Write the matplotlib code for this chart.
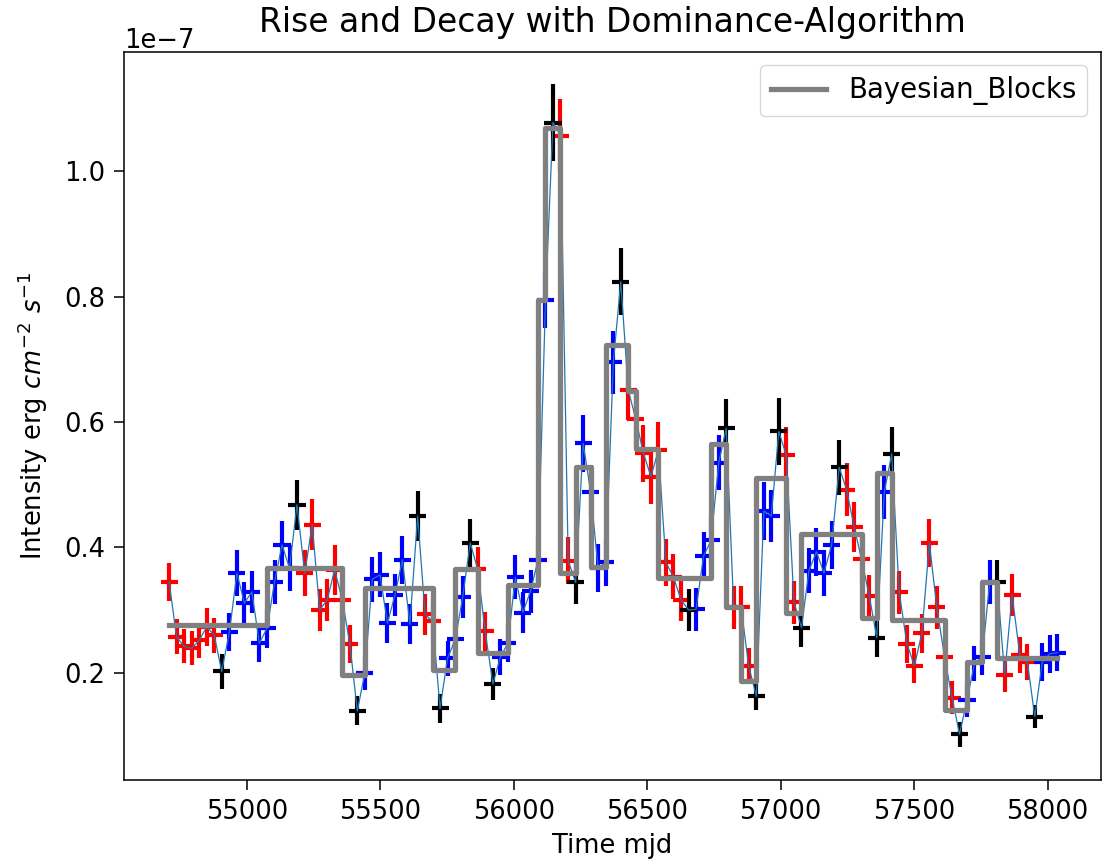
import numpy as np
import matplotlib
matplotlib.use("Agg")
import matplotlib.pyplot as plt

# Time grid (MJD) of the light-curve bins
time_mjd = [54709, 54737, 54765, 54794, 54822, 54850, 54878, 54906, 54935, 54963,
            54991, 55019, 55047, 55076, 55104, 55132, 55160, 55188, 55217, 55245,
            55273, 55301, 55329, 55358, 55386, 55414, 55442, 55470, 55499, 55527,
            55555, 55583, 55611, 55640, 55668, 55696, 55724, 55752, 55781, 55809,
            55837, 55865, 55893, 55922, 55950, 55978, 56006, 56034, 56063, 56091,
            56119, 56147, 56175, 56204, 56232, 56260, 56288, 56316, 56345, 56373,
            56401, 56429, 56457, 56486, 56514, 56542, 56570, 56598, 56627, 56655,
            56683, 56711, 56739, 56768, 56796, 56824, 56852, 56880, 56909, 56937,
            56965, 56993, 57021, 57050, 57078, 57106, 57134, 57162, 57191, 57219,
            57247, 57275, 57303, 57332, 57360, 57388, 57416, 57444, 57473, 57501,
            57529, 57557, 57585, 57614, 57642, 57670, 57698, 57726, 57755, 57783,
            57811, 57839, 57867, 57896, 57924, 57952, 57980, 58008, 58037]

# Flux in units of 1e-7 erg cm^-2 s^-1
flux_e7 = [0.345, 0.257, 0.242, 0.239, 0.252, 0.273, 0.260, 0.202, 0.265, 0.359,
           0.311, 0.329, 0.247, 0.271, 0.345, 0.404, 0.367, 0.468, 0.359, 0.436,
           0.300, 0.316, 0.364, 0.316, 0.246, 0.139, 0.199, 0.349, 0.356, 0.279,
           0.324, 0.380, 0.277, 0.450, 0.293, 0.282, 0.143, 0.223, 0.253, 0.321,
           0.407, 0.365, 0.266, 0.182, 0.225, 0.247, 0.352, 0.296, 0.330, 0.380,
           0.795, 1.078, 1.057, 0.379, 0.344, 0.566, 0.489, 0.367, 0.376, 0.695,
           0.824, 0.651, 0.605, 0.550, 0.513, 0.555, 0.376, 0.353, 0.316, 0.300,
           0.301, 0.386, 0.411, 0.535, 0.590, 0.304, 0.304, 0.211, 0.162, 0.458,
           0.450, 0.585, 0.547, 0.312, 0.272, 0.363, 0.393, 0.359, 0.404, 0.528,
           0.492, 0.433, 0.381, 0.322, 0.256, 0.488, 0.549, 0.328, 0.246, 0.211,
           0.263, 0.407, 0.304, 0.225, 0.160, 0.102, 0.156, 0.215, 0.225, 0.345,
           0.345, 0.196, 0.324, 0.228, 0.217, 0.130, 0.217, 0.230, 0.232]

flux_err_e7 = [0.030, 0.028, 0.027, 0.027, 0.028, 0.030, 0.028, 0.028, 0.030, 0.037,
               0.033, 0.034, 0.030, 0.031, 0.035, 0.038, 0.036, 0.040, 0.036, 0.041,
               0.033, 0.034, 0.040, 0.034, 0.030, 0.023, 0.027, 0.036, 0.036, 0.032,
               0.034, 0.038, 0.032, 0.040, 0.033, 0.033, 0.023, 0.028, 0.030, 0.034,
               0.038, 0.036, 0.031, 0.026, 0.029, 0.030, 0.035, 0.033, 0.034, 0.037,
               0.045, 0.062, 0.058, 0.037, 0.035, 0.045, 0.042, 0.038, 0.038, 0.050,
               0.053, 0.048, 0.046, 0.045, 0.044, 0.045, 0.038, 0.036, 0.034, 0.034,
               0.034, 0.038, 0.039, 0.044, 0.047, 0.034, 0.034, 0.029, 0.022, 0.047,
               0.042, 0.053, 0.045, 0.034, 0.031, 0.036, 0.038, 0.036, 0.038, 0.044,
               0.042, 0.040, 0.038, 0.034, 0.031, 0.043, 0.043, 0.034, 0.030, 0.028,
               0.031, 0.039, 0.034, 0.029, 0.026, 0.020, 0.026, 0.028, 0.029, 0.035,
               0.035, 0.027, 0.034, 0.029, 0.028, 0.019, 0.030, 0.030, 0.030]

# r = decay, b = rise, k = extreme (peak / valley)
point_class = ("rrrrrrrk" "bbbbbbbbbk" "rrrrrrrk" "bbbbbbbk" "rrk" "bbbk" "rrk"
               "bbbbbbbk" "rrk" "bbbbbk" "rrrrrrrrk" "bbbbk" "rrrk" "bbk" "rrk"
               "bbbbk" "rrrrk" "bk" "rrrrrrrrk" "bbbbk" "rrrrk" "bbb")

# Bayesian blocks: edge indices into the time grid and block levels (1e-7)
block_edge_idx = [0, 13, 23, 26, 35, 38, 41, 45, 49, 50, 52, 54, 56, 58, 61, 62, 65,
                  72, 74, 76, 78, 82, 84, 92, 94, 96, 103, 106, 108, 110, 118]
block_level_e7 = [0.276, 0.367, 0.196, 0.335, 0.205, 0.365, 0.231, 0.340, 0.795,
                  1.069, 0.359, 0.529, 0.369, 0.723, 0.649, 0.557, 0.351, 0.565,
                  0.305, 0.186, 0.510, 0.295, 0.421, 0.288, 0.518, 0.284, 0.140,
                  0.2175, 0.345, 0.223]

time_half_width = 32  # days

t = np.array(time_mjd, dtype=float)
f = np.array(flux_e7) * 1e-7
fe = np.array(flux_err_e7) * 1e-7
cls = np.array(list(point_class))

fig = plt.figure(figsize=(11.03, 8.64), dpi=100)
ax = fig.add_axes([124 / 1103, 1 - 780 / 864, (1101 - 124) / 1103, (780 - 51.7) / 864])

color_map = {"r": "red", "b": "blue", "k": "black"}
for c, col in color_map.items():
    m = cls == c
    ax.errorbar(t[m], f[m], xerr=time_half_width, yerr=fe[m], fmt="none",
                ecolor=col, elinewidth=3.0, zorder=2)

ax.plot(t, f, color="#1f77b4", lw=0.9, zorder=3)

edges = t[block_edge_idx]
levels = np.array(block_level_e7) * 1e-7
ax.step(edges, np.append(levels, levels[-1]), where="post", color="grey",
        lw=3.8, label="Bayesian_Blocks", zorder=4)

ax.set_xlim(54540, 58200)
ax.set_ylim(0.0287e-7, 1.191e-7)

fs = 18.5
ax.set_title("Rise and Decay with Dominance-Algorithm", fontsize=23.7, pad=14)
ax.set_xlabel("Time mjd", fontsize=fs, labelpad=6)
ax.set_ylabel(r"Intensity erg $cm^{-2}$ $s^{-1}$", fontsize=fs, labelpad=10)
ax.tick_params(labelsize=fs, length=7, width=1.1, pad=6.5)
ax.yaxis.get_offset_text().set_fontsize(fs)
for s in ax.spines.values():
    s.set_linewidth(1.1)
ax.set_xticks([55000, 55500, 56000, 56500, 57000, 57500, 58000])
ax.legend(loc="upper right", fontsize=19.8)

fig.savefig("out.png", dpi=100)
